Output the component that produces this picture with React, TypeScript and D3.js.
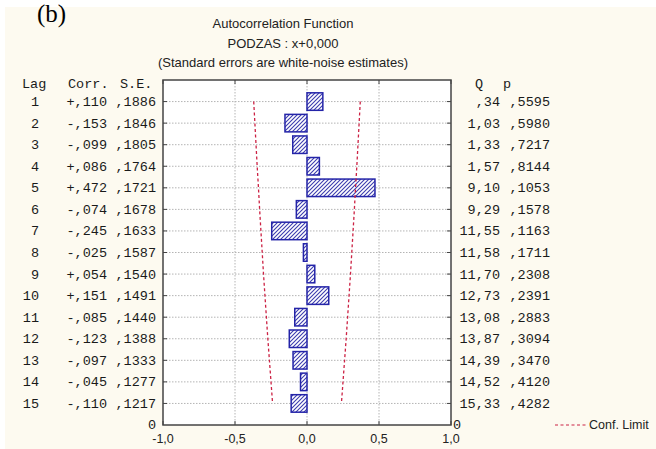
// @ts-nocheck
import React, { useRef, useEffect } from "react";
import * as d3 from "d3";

const lags = [1, 2, 3, 4, 5, 6, 7, 8, 9, 10, 11, 12, 13, 14, 15];
const corr = [0.11, -0.153, -0.099, 0.086, 0.472, -0.074, -0.245, -0.025, 0.054, 0.151, -0.085, -0.123, -0.097, -0.045, -0.11];
const corrLabels = ["+,110", "-,153", "-,099", "+,086", "+,472", "-,074", "-,245", "-,025", "+,054", "+,151", "-,085", "-,123", "-,097", "-,045", "-,110"];
const seLabels = [",1886", ",1846", ",1805", ",1764", ",1721", ",1678", ",1633", ",1587", ",1540", ",1491", ",1440", ",1388", ",1333", ",1277", ",1217"];
const qLabels = [",34", "1,03", "1,33", "1,57", "9,10", "9,29", "11,55", "11,58", "11,70", "12,73", "13,08", "13,87", "14,39", "14,52", "15,33"];
const pLabels = [",5595", ",5980", ",7217", ",8144", ",1053", ",1578", ",1163", ",1711", ",2308", ",2391", ",2883", ",3094", ",3470", ",4120", ",4282"];
// conf. limits (+/-)
const confLimit = [0.37, 0.362, 0.354, 0.346, 0.337, 0.329, 0.32, 0.311, 0.302, 0.292, 0.282, 0.272, 0.261, 0.25, 0.239];
const xTicks = [-1, -0.5, 0, 0.5, 1];
const xTickLabels = ["-1,0", "-0,5", "0,0", "0,5", "1,0"];

const App = () => {
  const svgRef = useRef(null);

  useEffect(() => {
    document.body.style.margin = "0";
    const svg = d3.select(svgRef.current);
    svg.selectAll("*").remove();

    const width = 656,
      height = 449;
    const left = 163,
      right = 451,
      top = 80,
      bottom = 425;

    const x = d3.scaleLinear().domain([-1, 1]).range([left, right]);
    const y = d3.scaleLinear().domain([0, 16]).range([top, bottom]);
    const barH = 17.5;

    const sans = "Arial, 'Liberation Sans', sans-serif";
    const mono = "'Liberation Mono', 'Courier New', monospace";

    svg.attr("width", width).attr("height", height).attr("viewBox", [0, 0, width, height]);

    const defs = svg.append("defs");
    const pat = defs
      .append("pattern")
      .attr("id", "hatch")
      .attr("patternUnits", "userSpaceOnUse")
      .attr("width", 4)
      .attr("height", 4);
    pat.append("rect").attr("width", 4).attr("height", 4).attr("fill", "#fff");
    pat
      .append("path")
      .attr("d", "M-1,1 l2,-2 M0,4 l4,-4 M3,5 l2,-2")
      .attr("stroke", "#3c3cae")
      .attr("stroke-width", 1.1);

    // background
    svg.append("rect").attr("x", 5).attr("y", 7).attr("width", width - 5).attr("height", height - 7).attr("fill", "#fdfaf0");
    svg.append("rect").attr("x", left).attr("y", top).attr("width", right - left).attr("height", bottom - top).attr("fill", "#fff");

    // grid
    svg
      .append("g")
      .selectAll("line")
      .data(lags)
      .join("line")
      .attr("x1", left)
      .attr("x2", right)
      .attr("y1", (d) => y(d))
      .attr("y2", (d) => y(d))
      .attr("stroke", "#b4b4b4")
      .attr("stroke-dasharray", "1.5,1.5");
    svg
      .append("g")
      .selectAll("line")
      .data([-0.5, 0, 0.5])
      .join("line")
      .attr("x1", (d) => x(d))
      .attr("x2", (d) => x(d))
      .attr("y1", top)
      .attr("y2", bottom)
      .attr("stroke", "#b4b4b4")
      .attr("stroke-dasharray", "1.5,1.5");

    // bars
    svg
      .append("g")
      .selectAll("rect")
      .data(lags)
      .join("rect")
      .attr("x", (d, i) => Math.min(x(0), x(corr[i])))
      .attr("y", (d) => y(d) - barH / 2)
      .attr("width", (d, i) => Math.abs(x(corr[i]) - x(0)))
      .attr("height", barH)
      .attr("fill", "url(#hatch)")
      .attr("stroke", "#2424a8")
      .attr("stroke-width", 1.5);

    // confidence limits
    const line = d3
      .line()
      .x((d) => x(d[0]))
      .y((d) => y(d[1]));
    [1, -1].forEach((s) => {
      svg
        .append("path")
        .attr("d", line(lags.map((l, i) => [s * confLimit[i], l])))
        .attr("fill", "none")
        .attr("stroke", "#cc2244")
        .attr("stroke-width", 1.3)
        .attr("stroke-dasharray", "3,2.5");
    });

    // frame
    svg
      .append("rect")
      .attr("x", left)
      .attr("y", top)
      .attr("width", right - left)
      .attr("height", bottom - top)
      .attr("fill", "none")
      .attr("stroke", "#444")
      .attr("stroke-width", 1.5);

    // ticks
    const tk = svg.append("g").attr("stroke", "#444").attr("stroke-width", 1);
    lags.forEach((l) => {
      tk.append("line").attr("x1", left).attr("x2", left + 4).attr("y1", y(l)).attr("y2", y(l));
      tk.append("line").attr("x1", right - 4).attr("x2", right).attr("y1", y(l)).attr("y2", y(l));
    });
    xTicks.forEach((t) => {
      tk.append("line").attr("x1", x(t)).attr("x2", x(t)).attr("y1", top).attr("y2", top + 4);
      tk.append("line").attr("x1", x(t)).attr("x2", x(t)).attr("y1", bottom - 4).attr("y2", bottom);
    });

    // x tick labels
    svg
      .append("g")
      .selectAll("text")
      .data(xTicks)
      .join("text")
      .attr("x", (d) => x(d))
      .attr("y", 443)
      .attr("text-anchor", "middle")
      .attr("font-family", sans)
      .attr("font-size", 12.5)
      .attr("fill", "#222")
      .text((d, i) => xTickLabels[i]);

    // titles
    const titles = ["Autocorrelation Function", "PODZAS : x+0,000", "(Standard errors are white-noise estimates)"];
    svg
      .append("g")
      .selectAll("text")
      .data(titles)
      .join("text")
      .attr("x", 283)
      .attr("y", (d, i) => 28 + i * 19.5)
      .attr("text-anchor", "middle")
      .attr("font-family", sans)
      .attr("font-size", 13)
      .attr("fill", "#222")
      .text((d) => d);

    svg
      .append("text")
      .attr("x", 37)
      .attr("y", 22)
      .attr("font-family", "'Times New Roman', 'Liberation Serif', serif")
      .attr("font-size", 25)
      .attr("fill", "#000")
      .text("(b)");

    // table columns
    const col = (labels, xEnd) =>
      svg
        .append("g")
        .selectAll("text")
        .data(lags)
        .join("text")
        .attr("x", xEnd)
        .attr("y", (d) => y(d) + 4.5)
        .attr("text-anchor", "end")
        .attr("font-family", mono)
        .attr("font-size", 13.5)
        .attr("fill", "#1a1a1a")
        .text((d, i) => labels[i]);
    col(lags.map(String), 39);
    col(corrLabels, 107);
    col(seLabels, 156);
    col(qLabels, 500);
    col(pLabels, 550);

    const header = [
      ["Lag", 22],
      ["Corr.", 68],
      ["S.E.", 120],
      ["Q", 475],
      ["p", 503],
    ];
    svg
      .append("g")
      .selectAll("text")
      .data(header)
      .join("text")
      .attr("x", (d) => d[1])
      .attr("y", 88)
      .attr("font-family", mono)
      .attr("font-size", 13.5)
      .attr("fill", "#1a1a1a")
      .text((d) => d[0]);

    // zero labels
    svg.append("text").attr("x", 156).attr("y", 429).attr("text-anchor", "end").attr("font-family", mono).attr("font-size", 13.5).attr("fill", "#1a1a1a").text("0");
    svg.append("text").attr("x", 453).attr("y", 429).attr("font-family", mono).attr("font-size", 13.5).attr("fill", "#1a1a1a").text("0");

    // legend
    svg
      .append("line")
      .attr("x1", 555)
      .attr("x2", 586)
      .attr("y1", 425)
      .attr("y2", 425)
      .attr("stroke", "#cc2244")
      .attr("stroke-width", 1.2)
      .attr("stroke-dasharray", "3,2.5");
    svg
      .append("text")
      .attr("x", 589)
      .attr("y", 429)
      .attr("font-family", sans)
      .attr("font-size", 12.5)
      .attr("fill", "#222")
      .text("Conf. Limit");
  }, []);

  return <svg ref={svgRef} style={{ display: "block" }}></svg>;
};

export default App;
